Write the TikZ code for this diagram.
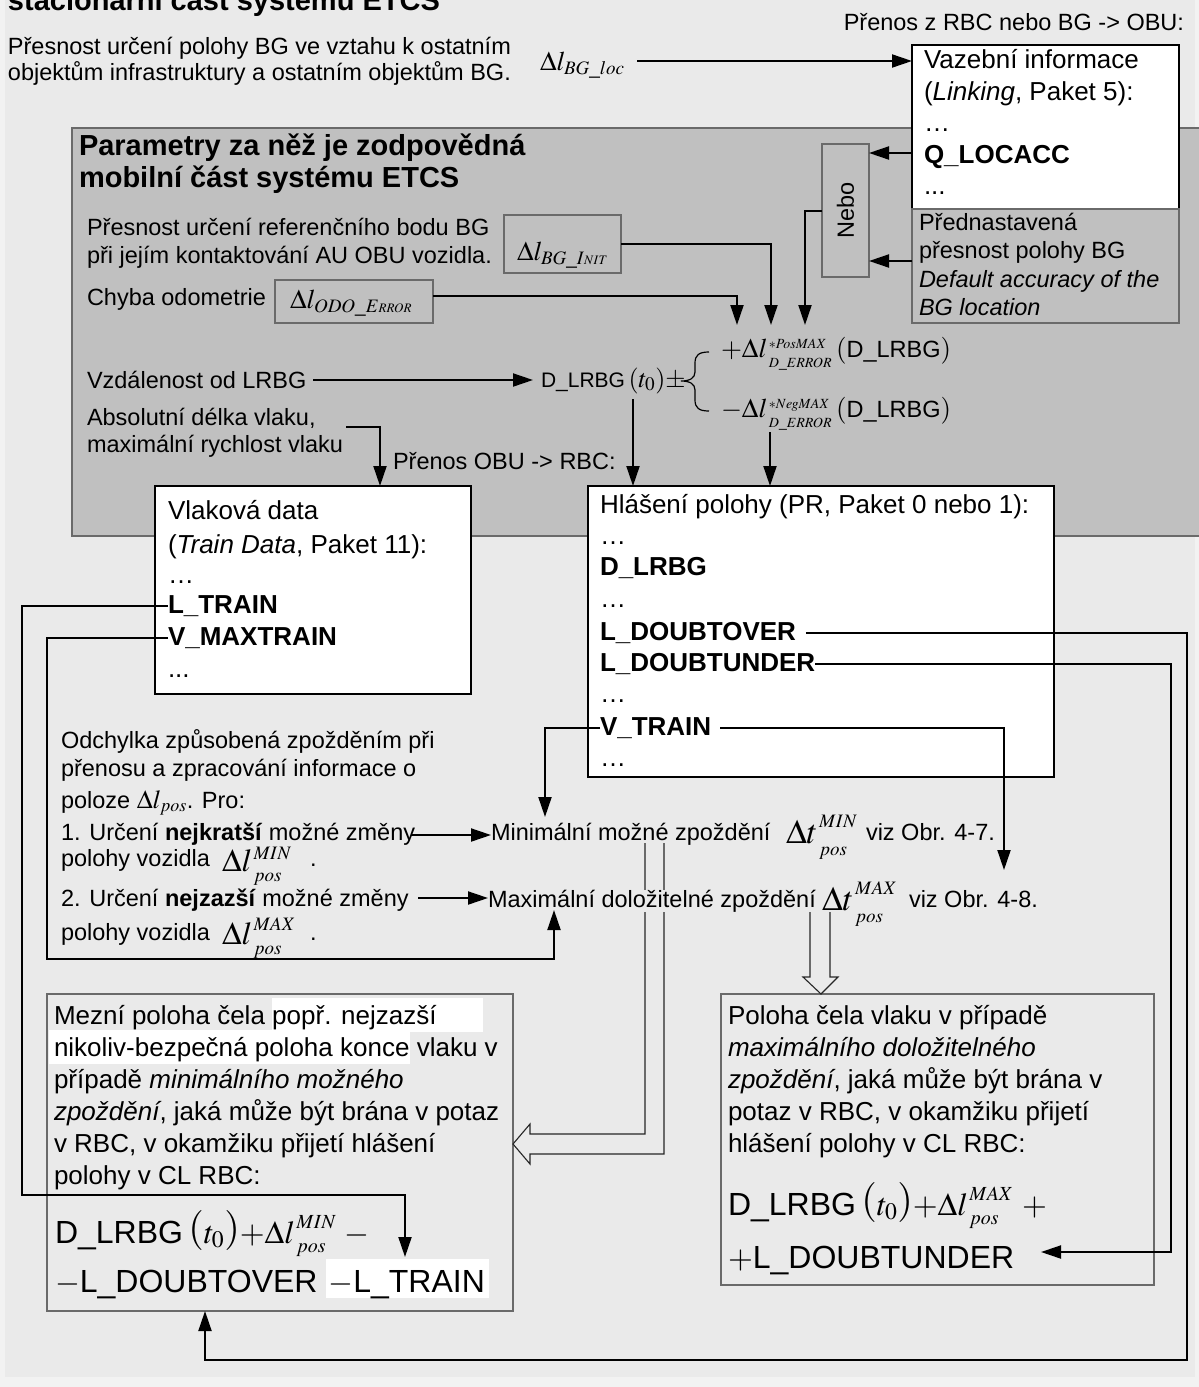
\documentclass[tikz,border=0pt]{standalone}
\usepackage{mathptmx}
\usepackage[no-math]{fontspec}
\setmainfont{Liberation Sans}
\usetikzlibrary{arrows.meta}
\definecolor{marginbg}{HTML}{F2F2F2}
\definecolor{pagebg}{HTML}{EAEAEA}
\definecolor{panelgray}{HTML}{C0C0C0}
\definecolor{framegray}{HTML}{6A6A6A}
% math set at an explicit size (sub/superscripts of the Times formulas)
\newcommand\mathat[2]{\mbox{\fontsize{#1}{#1}\selectfont$#2$}}
% white highlight behind a piece of text: depth, height, text
\newcommand\whitemark[3]{{\setlength{\fboxsep}{0pt}\colorbox{white}{\rule[-#1]{0pt}{#2}#3}}}
% symbol with stacked super- and subscript:
% base size, base, script size, sup, sub, sup raise, sub drop
\newsavebox\supbox
\newsavebox\subbox
\newcommand\delss[7]{\mathat{#1}{#2}\kern1.5pt%
  \sbox\supbox{\mathat{#3}{#4}}\sbox\subbox{\mathat{#3}{#5}}%
  \rlap{\raisebox{#6}{\usebox\supbox}}\raisebox{-#7}{\usebox\subbox}%
  \ifdim\wd\supbox>\wd\subbox\hspace{\dimexpr\wd\supbox-\wd\subbox\relax}\fi}
% large Times parenthesis for the formulas
\newcommand\bigpar[1]{\raisebox{3pt}{\mathat{40}{#1}}}
\begin{document}
\begin{tikzpicture}[x=1pt,y=-1pt,
  txt/.style={inner sep=0pt, outer sep=0pt, anchor=base west, font=\fontsize{23.5}{26}\selectfont},
  boxtxt/.style={txt, font=\fontsize{26}{30}\selectfont},
  boldtxt/.style={txt, font=\fontsize{26}{30}\selectfont\bfseries},
  headtxt/.style={txt, font=\fontsize{29}{33}\selectfont\bfseries},
  formula/.style={txt, font=\fontsize{32}{36}\selectfont},
  deltatxt/.style={txt, font=\fontsize{27}{30}\selectfont},
  wbox/.style={draw=black, line width=2pt, fill=white, anchor=north west, inner sep=0pt, outer sep=0pt},
  gbox/.style={draw=framegray, line width=1.5pt, fill=panelgray, anchor=north west, inner sep=0pt, outer sep=0pt},
  lbox/.style={draw=framegray, line width=1.3pt, fill=pagebg, anchor=north west, inner sep=0pt, outer sep=0pt},
  conn/.style={line width=2pt},
  arr/.style={conn, -{Triangle[length=20pt,width=13pt]}},
  hollow/.style={draw=black!85, line width=1.1pt},
]
\useasboundingbox (0,0) rectangle (1199,1387);
\clip (0,0) rectangle (1199,1387);
\fill[marginbg] (0,0) rectangle (1199,1387);
\fill[pagebg] (5,0) rectangle (1195,1377);

% ---------- stationary part (top) ----------
\node[headtxt] (title) at (8,10) {stacionární část systému ETCS};
\node[txt] (acc1) at (8,54) {Přesnost určení polohy BG ve vztahu k ostatním};
\node[txt] (acc2) at (8,80) {objektům infrastruktury a ostatním objektům BG.};
\node[deltatxt] (bgloc) at (540,70) {$\Delta l_{\mathat{19}{BG\_loc}}$};
\node[txt, anchor=base east] (rbcobu) at (1184,30) {Přenos z RBC nebo BG -> OBU:};

% ---------- mobile part panel ----------
\node[gbox, minimum width=1150pt, minimum height=408pt] (panel) at (72,128) {};

% linking information
\node[wbox, minimum width=267pt, minimum height=187pt] (vaz) at (912,45) {};
\node[boxtxt] (vaz1) at (924,68) {Vazební informace};
\node[boxtxt] (vaz2) at (924,100) {(\textit{Linking}, Paket 5):};
\node[boxtxt] (vaz3) at (924,131) {…};
\node[boldtxt] (qloc) at (924,163) {Q\_LOCACC};
\node[boxtxt] (vaz5) at (924,194) {...};

\node[headtxt] (head1) at (79,155) {Parametry za něž je zodpovědná};
\node[headtxt] (head2) at (79,187) {mobilní část systému ETCS};
\node[txt] (ref1) at (87,235) {Přesnost určení referenčního bodu BG};
\node[txt] (ref2) at (87,263) {při jejím kontaktování AU OBU vozidla.};
\node[gbox, minimum width=117pt, minimum height=58pt] (init) at (504,215) {};
\node[deltatxt] (initval) at (517,260) {$\Delta l_{\mathat{19}{BG\_I}\mathat{13}{NIT}}$};
\node[txt] (odolbl) at (87,305) {Chyba odometrie};
\node[gbox, minimum width=158pt, minimum height=43pt] (odo) at (275,280) {};
\node[deltatxt] (odoval) at (290,308) {$\Delta l_{\mathat{19}{ODO\_E}\mathat{13}{RROR}}$};

\node[gbox, minimum width=47pt, minimum height=133pt] (nebo) at (822,144) {};
\node[txt, anchor=center, rotate=90] (nebotxt) at (nebo.center) {Nebo};

\node[gbox, minimum width=267pt, minimum height=114pt] (pred) at (912,209) {};
\node[txt] (pred1) at (919,230) {Přednastavená};
\node[txt] (pred2) at (919,258) {přesnost polohy BG};
\node[txt] (pred3) at (919,287) {\itshape Default accuracy of the};
\node[txt] (pred4) at (919,315) {\itshape BG location};

\node[txt] (dist) at (87,388) {Vzdálenost od LRBG};
\node[txt] (dlrbg) at (541,387) {\fontsize{21}{26}\selectfont D\_LRBG\,\mathat{26}{(t_0)\pm}};
\node[deltatxt] (posmax) at (721,357) {\mathat{27}{+}\delss{27}{\Delta l}{14}{*PosMAX}{D\_ERROR}{9pt}{10pt}\,\mathat{27}{(}{\fontsize{23.5}{26}\selectfont D\_LRBG}\mathat{27}{)}};
\node[deltatxt] (negmax) at (721,417) {\mathat{27}{-}\delss{27}{\Delta l}{14}{*NegMAX}{D\_ERROR}{9pt}{10pt}\,\mathat{27}{(}{\fontsize{23.5}{26}\selectfont D\_LRBG}\mathat{27}{)}};
\draw[line width=1.2pt] (709,352) .. controls (699,352) and (695,355) .. (695,363)
  -- (695,372) .. controls (695,378) and (690,381) .. (681,381)
  .. controls (690,381) and (695,384) .. (695,390)
  -- (695,400) .. controls (695,408) and (699,411) .. (709,411);

\node[txt] (abs1) at (87,425) {Absolutní délka vlaku,};
\node[txt] (abs2) at (87,452) {maximální rychlost vlaku};
\node[txt] (obutx) at (393,469) {Přenos OBU -> RBC:};

% train data
\node[wbox, minimum width=316pt, minimum height=208pt] (vlak) at (155,486) {};
\node[boxtxt] (vl1) at (168,519) {Vlaková data};
\node[boxtxt] (vl2) at (168,553) {(\textit{Train Data}, Paket 11):};
\node[boxtxt] (vl3) at (168,583) {…};
\node[boldtxt] (ltrain) at (168,613) {L\_TRAIN};
\node[boldtxt] (vmax) at (168,645) {V\_MAXTRAIN};
\node[boxtxt] (vl6) at (168,677) {...};

% position report
\node[wbox, minimum width=466pt, minimum height=291pt] (hlas) at (588,486) {};
\node[boxtxt] (hl1) at (600,513) {Hlášení polohy (PR, Paket 0 nebo 1):};
\node[boxtxt] (hl2) at (600,544) {…};
\node[boldtxt] (hdl) at (600,575) {D\_LRBG};
\node[boxtxt] (hl4) at (600,607) {…};
\node[boldtxt] (ldo) at (600,640) {L\_DOUBTOVER};
\node[boldtxt] (ldu) at (600,671) {L\_DOUBTUNDER};
\node[boxtxt] (hl7) at (600,702) {…};
\node[boldtxt] (vtr) at (600,735) {V\_TRAIN};
\node[boxtxt] (hl9) at (600,766) {…};

% delay explanation
\node[txt] (odch1) at (61,748) {Odchylka způsobená zpožděním při};
\node[txt] (odch2) at (61,776) {přenosu a zpracování informace o};
\node[txt] (odch3) at (61,808) {poloze \mathat{26}{\Delta l_{\mathat{18}{pos}}}. Pro:};
\node[txt] (ur1) at (61,840) {1. Určení \textbf{nejkratší} možné změny};
\node[txt] (pv1) at (61,866) {polohy vozidla};
\node[txt] (dlmin) at (222,871) {\delss{32}{\Delta l}{19}{MIN}{pos}{12pt}{10pt}};
\node[txt] (dot1) at (310,866) {.};
\node[txt] (ur2) at (61,906) {2. Určení \textbf{nejzazší} možné změny};
\node[txt] (pv2) at (61,940) {polohy vozidla};
\node[txt] (dlmax) at (222,944) {\delss{32}{\Delta l}{19}{MAX}{pos}{14pt}{10pt}};
\node[txt] (dot2) at (310,940) {.};

\node[txt] (mintxt) at (491,840) {Minimální možné zpoždění};
\node[txt] (dtmin) at (786,843) {\delss{34}{\Delta t}{19}{MIN}{pos}{16pt}{12pt}};
\node[txt] (minref) at (866,840) {viz Obr. 4-7.};

% result boxes
\node[lbox, minimum width=466pt, minimum height=317pt] (mez) at (47,994) {};
\node[lbox, minimum width=433pt, minimum height=291pt] (pol) at (721,994) {};

% hollow double arrows
\draw[hollow] (645,843) -- (645,1134) -- (530,1134) -- (530,1124) -- (mez.east |- 0,1144)
  -- (530,1164) -- (530,1154) -- (664,1154) -- (664,843);
\draw[hollow] (810,912) -- (810,977) -- (803,977) -- (pol.north -| 821,0)
  -- (838,977) -- (830,977) -- (830,912);

\node[txt, fill=pagebg] (maxtxt) at (488,907) {Maximální doložitelné zpoždění};
\node[txt] (dtmax) at (822,910) {\delss{34}{\Delta t}{19}{MAX}{pos}{16pt}{12pt}};
\node[txt] (maxref) at (909,907) {viz Obr. 4-8.};

\node[boxtxt] (mz1) at (54,1024) {Mezní poloha čela \whitemark{8pt}{34pt}{popř. nejzazší\hspace*{46pt}}};
\node[boxtxt] (mz2) at (49,1056) {\whitemark{8pt}{34pt}{\kern5pt nikoliv-bezpečná poloha konce} vlaku v};
\node[boxtxt] (mz3) at (54,1088) {případě \textit{minimálního možného}};
\node[boxtxt] (mz4) at (54,1120) {\textit{zpoždění}, jaká může být brána v potaz};
\node[boxtxt] (mz5) at (54,1152) {v RBC, v okamžiku přijetí hlášení};
\node[boxtxt] (mz6) at (54,1184) {polohy v CL RBC:};
\node[formula] (mezf1) at (55,1243) {D\_LRBG\,\bigpar{(}\mathat{32}{t_0}\bigpar{)}\mathat{32}{+}\delss{32}{\Delta l}{20}{MIN}{pos}{15pt}{9pt}\ \mathat{32}{-}};
\node[formula] (mezf2) at (55,1292) {\mathat{32}{-}L\_DOUBTOVER \whitemark{5pt}{38pt}{\kern2pt\mathat{32}{-}L\_TRAIN\kern4pt}};

\node[boxtxt] (pl1) at (728,1024) {Poloha čela vlaku v případě};
\node[boxtxt] (pl2) at (728,1056) {\textit{maximálního doložitelného}};
\node[boxtxt] (pl3) at (728,1088) {\textit{zpoždění}, jaká může být brána v};
\node[boxtxt] (pl4) at (728,1120) {potaz v RBC, v okamžiku přijetí};
\node[boxtxt] (pl5) at (728,1152) {hlášení polohy v CL RBC:};
\node[formula] (polf1) at (728,1215) {D\_LRBG\,\bigpar{(}\mathat{32}{t_0}\bigpar{)}\mathat{32}{+}\delss{32}{\Delta l}{20}{MAX}{pos}{15pt}{9pt}\ \mathat{32}{+}};
\node[formula] (polf2) at (728,1268) {\mathat{32}{+}L\_DOUBTUNDER};

% ---------- connectors ----------
\coordinate (locstart) at (637,61);
\draw[arr] (locstart) -- (locstart -| vaz.west);
\draw[arr] (vaz.west |- 0,153) -- (nebo.east |- 0,153);
\draw[arr] (pred.west |- 0,261) -- (nebo.east |- 0,261);
\coordinate (tipodo) at (737,325);
\coordinate (tipinit) at (771,325);
\coordinate (tipnebo) at (805,325);
\draw[arr] (odo.east |- 0,296) -| (tipodo);
\draw[arr] (init.east) -| (tipinit);
\draw[arr] (nebo.west) -| (tipnebo);

\coordinate (diststart) at (313,380);
\coordinate (disttip) at (533,380);
\draw[arr] (diststart) -- (disttip);
\coordinate (dlrbgdown) at (633,399);
\draw[arr] (dlrbgdown) -- (dlrbgdown |- hlas.north);
\coordinate (negdown) at (770,432);
\draw[arr] (negdown) -- (negdown |- hlas.north);
\coordinate (absstart) at (346,427);
\draw[arr] (absstart) -| (vlak.north -| 380,0);

\coordinate (ltraintip) at (405,1257);
\draw[arr] (ltrain.west) -- (ltrain.west -| 22,0) |- (405,1195) -- (ltraintip);
\coordinate (maxup) at (554,910);
\draw[arr] (vmax.west) -- (vmax.west -| 47,0) |- (554,959) -- (maxup);

\coordinate (ur1end) at (411,835);
\draw[arr] (ur1end) -- (ur1end -| mintxt.west);
\coordinate (ur2end) at (418,898);
\draw[arr] (ur2end) -- (ur2end -| maxtxt.west);

\coordinate (minin) at (545,817);
\draw[arr] (vtr.west) -| (minin);
\coordinate (vtrtip) at (1004,870);
\draw[arr] ([xshift=9pt]vtr.east) -| (vtrtip);

\draw[arr] ([xshift=10pt]ldo.east) -| (1187,1360) -| (mez.south -| 205,0);
\coordinate (undtip) at (1041,1252);
\draw[arr] (ldu.east) -| (1171,1252) -- (undtip);
\end{tikzpicture}
\end{document}
